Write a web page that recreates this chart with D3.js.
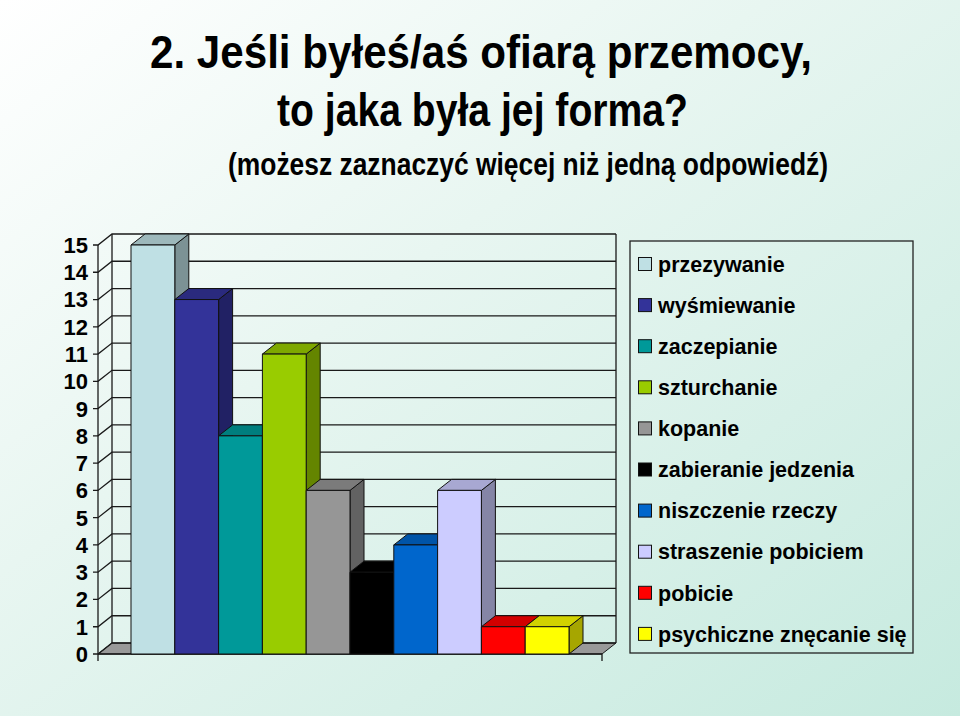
<!DOCTYPE html>
<html>
<head>
<meta charset="utf-8">
<script src="https://d3js.org/d3.v7.min.js"></script>
<style>
    html, body { margin: 0; padding: 0; }
    svg { display: block; }
</style>
</head>
<body>
<div id="chart"></div>
<script>
var categories = ["przezywanie", "wyśmiewanie", "zaczepianie", "szturchanie", "kopanie",
    "zabieranie jedzenia", "niszczenie rzeczy", "straszenie pobiciem", "pobicie",
    "psychiczne znęcanie się"];
var values = [15, 13, 8, 11, 6, 3, 4, 6, 1, 1];
var colors = ["#bfe0e4", "#333399", "#009999", "#99cc00", "#969696",
    "#000000", "#0066cc", "#ccccff", "#ff0000", "#ffff00"];
var yTicks = d3.range(0, 16);
var titleLines = ["2. Jeśli byłeś/aś ofiarą przemocy,", "to jaka była jej forma?",
    "(możesz zaznaczyć więcej niż jedną odpowiedź)"];

var width = 960, height = 716;
var depth = {dx: 14, dy: -11};
var floorLeft = 98, floorRight = 602;

var svg = d3.select("#chart").append("svg")
    .attr("width", width)
    .attr("height", height);

// background
var grad = svg.append("defs").append("linearGradient")
    .attr("id", "bg")
    .attr("x1", "0").attr("y1", "0").attr("x2", "1").attr("y2", "1");
grad.append("stop").attr("offset", "0").attr("stop-color", "#ffffff");
grad.append("stop").attr("offset", "0.4").attr("stop-color", "#e8f6f1");
grad.append("stop").attr("offset", "1").attr("stop-color", "#c6eadf");
svg.append("rect").attr("width", width).attr("height", height).attr("fill", "url(#bg)");

// title (narrow bold, squeezed to the reference widths)
var titleFont = "'Liberation Sans Narrow', 'Arial Narrow', 'Liberation Sans', Arial, sans-serif";
var titleSpec = [
    {x: 150, y: 68, size: 46, len: 662},
    {x: 277, y: 126, size: 46, len: 411},
    {x: 228, y: 175, size: 32, len: 600}
];
svg.selectAll(".title")
    .data(titleLines)
    .enter().append("text")
    .attr("class", "title")
    .attr("x", function (d, i) { return titleSpec[i].x; })
    .attr("y", function (d, i) { return titleSpec[i].y; })
    .attr("textLength", function (d, i) { return titleSpec[i].len; })
    .attr("lengthAdjust", "spacingAndGlyphs")
    .style("font-family", titleFont)
    .style("font-weight", "bold")
    .style("font-size", function (d, i) { return titleSpec[i].size + "px"; })
    .style("fill", "#000")
    .text(function (d) { return d; });

// scales
var y = d3.scaleLinear().domain([0, 15]).range([654, 245]);
var x = d3.scaleBand().domain(categories).range([131, 569]).padding(0);

var g = svg.append("g");
var lineColor = "#1a1a1a";

// floor
g.append("path")
    .attr("d", "M" + floorLeft + "," + y(0)
        + "L" + floorRight + "," + y(0)
        + "L" + (floorRight + depth.dx) + "," + (y(0) + depth.dy)
        + "L" + (floorLeft + depth.dx) + "," + (y(0) + depth.dy) + "Z")
    .attr("fill", "#999999")
    .attr("stroke", lineColor)
    .attr("stroke-width", 1);

// gridlines: tick, side wall diagonal, back wall
var grid = g.selectAll(".grid")
    .data(yTicks)
    .enter().append("g")
    .attr("class", "grid");

grid.append("path")
    .attr("d", function (d) {
        var yy = y(d);
        return "M" + (floorLeft - 5) + "," + yy
            + "L" + floorLeft + "," + yy
            + "L" + (floorLeft + depth.dx) + "," + (yy + depth.dy)
            + "L" + (floorRight + depth.dx) + "," + (yy + depth.dy);
    })
    .attr("fill", "none")
    .attr("stroke", lineColor)
    .attr("stroke-width", 1.3);

grid.append("text")
    .attr("x", 88)
    .attr("y", function (d) { return y(d); })
    .attr("dy", "0.36em")
    .style("text-anchor", "end")
    .style("font-family", "'Liberation Sans', Arial, sans-serif")
    .style("font-weight", "bold")
    .style("font-size", "22px")
    .text(function (d) { return d; });

// walls edges
g.append("path")
    .attr("d", "M" + floorLeft + "," + (y(0) + 7) + "L" + floorLeft + "," + y(15)
        + "M" + (floorLeft + depth.dx) + "," + (y(0) + depth.dy) + "L" + (floorLeft + depth.dx) + "," + (y(15) + depth.dy)
        + "M" + (floorRight + depth.dx) + "," + (y(0) + depth.dy) + "L" + (floorRight + depth.dx) + "," + (y(15) + depth.dy)
        + "M" + floorRight + "," + y(0) + "L" + floorRight + "," + (y(0) + 7)
        + "M" + floorLeft + "," + y(0) + "L" + floorRight + "," + y(0))
    .attr("fill", "none")
    .attr("stroke", lineColor)
    .attr("stroke-width", 1.3);

// 3D bars, drawn left to right so each front covers the previous side face
var bar = g.selectAll(".bar")
    .data(categories)
    .enter().append("g")
    .attr("class", "bar");

function face(pts) {
    return "M" + pts.map(function (p) { return p[0] + "," + p[1]; }).join("L") + "Z";
}

bar.each(function (d, i) {
    var x0 = x(d), x1 = x(d) + x.bandwidth();
    var y0 = y(0), y1 = y(values[i]);
    var c = d3.color(colors[i]);
    var sel = d3.select(this);
    var top = colors[i] === "#000000" ? "#000" : c.darker(0.55);
    var side = colors[i] === "#000000" ? "#000" : c.darker(1.2);
    sel.append("path")
        .attr("d", face([[x1, y0], [x1 + depth.dx, y0 + depth.dy], [x1 + depth.dx, y1 + depth.dy], [x1, y1]]))
        .attr("fill", side);
    sel.append("path")
        .attr("d", face([[x0, y1], [x1, y1], [x1 + depth.dx, y1 + depth.dy], [x0 + depth.dx, y1 + depth.dy]]))
        .attr("fill", top);
    sel.append("rect")
        .attr("x", x0)
        .attr("y", y1)
        .attr("width", x1 - x0)
        .attr("height", y0 - y1)
        .attr("fill", c);
    sel.selectAll("path, rect")
        .attr("stroke", "#111")
        .attr("stroke-width", 1)
        .attr("stroke-linejoin", "round");
});

// legend
var legend = svg.append("g").attr("transform", "translate(630,241)");
legend.append("rect")
    .attr("width", 283)
    .attr("height", 412)
    .attr("fill", "none")
    .attr("stroke", "#222")
    .attr("stroke-width", 1.3);

var item = legend.selectAll(".item")
    .data(categories)
    .enter().append("g")
    .attr("class", "item")
    .attr("transform", function (d, i) { return "translate(0," + (23 + i * 41.1) + ")"; });

item.append("rect")
    .attr("x", 8.5)
    .attr("y", -6.5)
    .attr("width", 13)
    .attr("height", 13)
    .attr("fill", function (d, i) { return colors[i]; })
    .attr("stroke", "#111")
    .attr("stroke-width", 1);

item.append("text")
    .attr("x", 28)
    .attr("dy", "0.36em")
    .style("font-family", "'Liberation Sans', Arial, sans-serif")
    .style("font-weight", "bold")
    .style("font-size", "21.5px")
    .style("fill", "#000")
    .text(function (d) { return d; });
</script>
</body>
</html>
